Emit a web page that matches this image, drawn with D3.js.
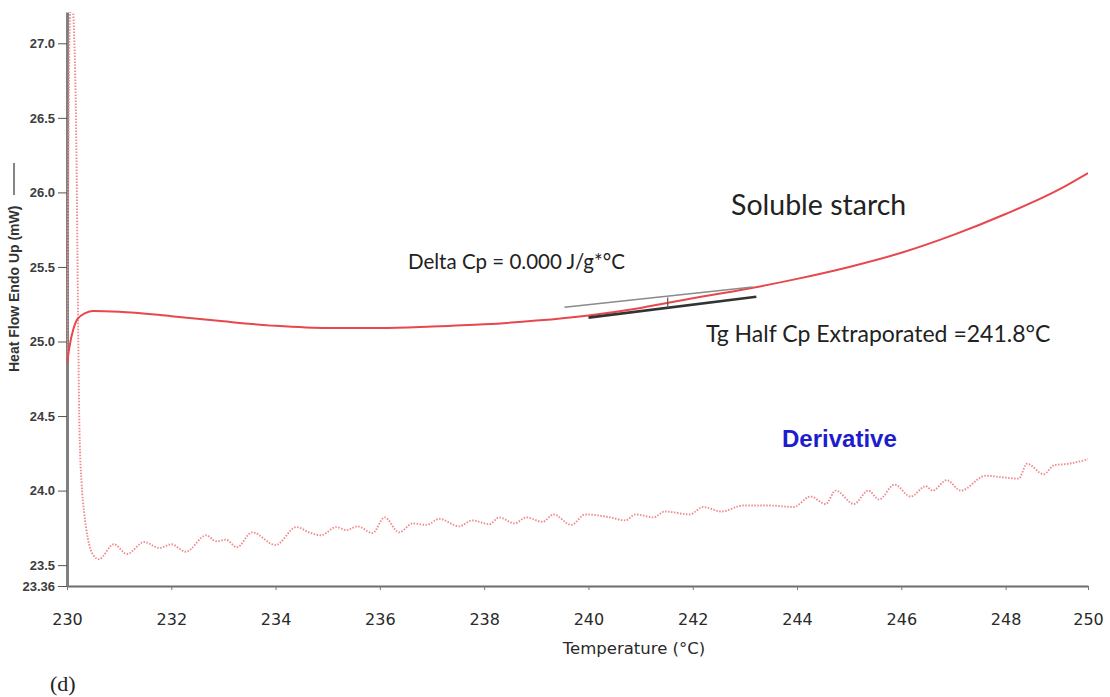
<!DOCTYPE html>
<html>
<head>
<meta charset="utf-8">
<script src="https://cdn.jsdelivr.net/npm/d3@7"></script>
<style>
  body { margin: 0; background: #fff; }
  svg { display: block; }
</style>
</head>
<body>
<script>
// Heat flow curve (solid)
var heatTemp = [230.0, 230.05, 230.12, 230.2, 230.35, 230.5, 231, 232, 233, 234, 235, 236, 237, 238, 239, 240, 241, 242, 243, 244, 245, 246, 247, 248, 249, 249.58];
var heatFlow = [24.85, 24.97, 25.08, 25.15, 25.19, 25.205, 25.2, 25.17, 25.135, 25.105, 25.09, 25.09, 25.1, 25.115, 25.14, 25.175, 25.225, 25.29, 25.35, 25.42, 25.5, 25.595, 25.715, 25.855, 26.015, 26.13];

// Derivative curve (dotted)
var derivTemp = [230.0, 230.02, 230.04, 230.06, 230.1, 230.15, 230.18, 230.2, 230.22, 230.24, 230.28, 230.33, 230.4, 230.5, 230.61,
  230.9, 231.15, 231.48, 231.77, 232.0, 232.28, 232.67, 232.86, 233.05, 233.26, 233.55, 234.0, 234.4, 234.64, 234.87,
  235.16, 235.36, 235.57, 235.86, 236.09, 236.37, 236.63, 236.89, 237.14, 237.52, 237.77, 238.1, 238.29, 238.58, 238.81,
  239.12, 239.33, 239.67, 239.94, 240.42, 240.71, 240.9, 241.25, 241.46, 241.94, 242.2, 242.55, 242.97, 243.45, 243.93,
  244.26, 244.55, 244.74, 245.09, 245.37, 245.57, 245.87, 246.18, 246.47, 246.6, 246.87, 247.14, 247.62, 247.91, 248.25,
  248.41, 248.73, 248.93, 249.21, 249.58];
var derivValue = [24.85, 25.8, 26.8, 27.2, 27.25, 26.9, 26.3, 25.6, 24.9, 24.4, 24.05, 23.85, 23.68, 23.57, 23.54,
  23.64, 23.575, 23.655, 23.615, 23.64, 23.59, 23.7, 23.66, 23.67, 23.62, 23.72, 23.635, 23.755, 23.72, 23.7,
  23.755, 23.735, 23.76, 23.715, 23.82, 23.72, 23.78, 23.77, 23.81, 23.76, 23.8, 23.775, 23.82, 23.78, 23.82,
  23.79, 23.84, 23.77, 23.84, 23.82, 23.8, 23.84, 23.82, 23.86, 23.84, 23.89, 23.86, 23.9, 23.9, 23.89,
  23.96, 23.91, 24.0, 23.91, 24.0, 23.94, 24.04, 23.96, 24.03, 24.0, 24.07, 24.0, 24.1, 24.09, 24.08,
  24.18, 24.11, 24.17, 24.18, 24.21];

// Onset tangent lines and half-Cp marker
var upperTangentTemp = [239.54, 243.15];
var upperTangentValue = [25.23, 25.365];
var lowerTangentTemp = [240.0, 243.22];
var lowerTangentValue = [25.16, 25.30];
var halfCpTemp = 241.52;
var halfCpValue = [25.225, 25.295];

var xTickValues = [230, 232, 234, 236, 238, 240, 242, 244, 246, 248, 249.58];
var xTickLabels = ["230", "232", "234", "236", "238", "240", "242", "244", "246", "248", "250"];
var yTickValues = [23.36, 23.5, 24.0, 24.5, 25.0, 25.5, 26.0, 26.5, 27.0];
var yTickLabels = ["23.36", "23.5", "24.0", "24.5", "25.0", "25.5", "26.0", "26.5", "27.0"];

var width = 1110, height = 697;
var margin = { top: 12, right: 22, bottom: 111, left: 67 };

var svg = d3.select('body')
  .append('svg')
  .attr('width', width)
  .attr('height', height);

var xScale = d3.scaleLinear()
  .domain([230, 249.58])
  .range([margin.left, width - margin.right]);

var yScale = d3.scaleLinear()
  .domain([23.36, 27.21])
  .range([height - margin.bottom, margin.top]);

svg.append('clipPath')
  .attr('id', 'plot-clip')
  .append('rect')
  .attr('x', margin.left)
  .attr('y', margin.top)
  .attr('width', width - margin.left - margin.right)
  .attr('height', height - margin.top - margin.bottom);

var line = d3.line()
  .x(function(d) { return xScale(d[0]); })
  .y(function(d) { return yScale(d[1]); });

//Draw axes
var xAxis = svg.append('g')
  .attr('transform', `translate(0,${height - margin.bottom})`)
  .call(d3.axisBottom(xScale)
    .tickValues(xTickValues)
    .tickFormat(function(d, i) { return xTickLabels[i]; })
    .tickSizeInner(4)
    .tickSizeOuter(0)
    .tickPadding(24));
xAxis.select('.domain').attr('stroke', '#6d6d6d').attr('stroke-width', 2);
xAxis.selectAll('.tick line').attr('stroke', '#777');
xAxis.selectAll('.tick text')
  .attr('fill', '#2a2a2a')
  .style('font-family', 'DejaVu Sans')
  .style('font-size', '16px');

var yAxis = svg.append('g')
  .attr('transform', `translate(${margin.left},0)`)
  .call(d3.axisLeft(yScale)
    .tickValues(yTickValues)
    .tickFormat(function(d, i) { return yTickLabels[i]; })
    .tickSizeInner(9)
    .tickSizeOuter(0)
    .tickPadding(3));
yAxis.select('.domain').attr('stroke', '#808080').attr('stroke-width', 3);
yAxis.selectAll('.tick line').attr('stroke', '#555');
yAxis.selectAll('.tick text')
  .attr('fill', '#3d3d3d')
  .style('font-family', 'Liberation Sans')
  .style('font-weight', 'bold')
  .style('font-size', '13px');

//Axis labels
svg.append('text')
  .attr('x', 634)
  .attr('y', 654)
  .attr('text-anchor', 'middle')
  .attr('fill', '#2a2a2a')
  .style('font-family', 'DejaVu Sans')
  .style('font-size', '16.5px')
  .text('Temperature (°C)');

var yLabel = svg.append('g')
  .attr('transform', 'translate(19,372) rotate(-90)');
yLabel.append('text')
  .attr('x', 0)
  .attr('y', 0)
  .attr('fill', '#333')
  .style('font-family', 'Liberation Sans')
  .style('font-weight', 'bold')
  .style('font-size', '14px')
  .text('Heat Flow Endo Up (mW)');
yLabel.append('line')
  .attr('x1', 177).attr('x2', 209)
  .attr('y1', -5).attr('y2', -5)
  .attr('stroke', '#444')
  .attr('stroke-width', 1.3);

//Draw curves
var plot = svg.append('g').attr('clip-path', 'url(#plot-clip)');

plot.append('path')
  .datum(d3.zip(derivTemp, derivValue))
  .attr('d', line.curve(d3.curveMonotoneX))
  .attr('fill', 'none')
  .attr('stroke', '#f08a8c')
  .attr('stroke-width', 1.9)
  .attr('stroke-dasharray', '1.5,1.5');

plot.append('path')
  .datum(d3.zip(heatTemp, heatFlow))
  .attr('d', line.curve(d3.curveMonotoneX))
  .attr('fill', 'none')
  .attr('stroke', '#e8474c')
  .attr('stroke-width', 2);

//Tangent lines
plot.append('path')
  .datum(d3.zip(upperTangentTemp, upperTangentValue))
  .attr('d', line.curve(d3.curveLinear))
  .attr('stroke', '#8a8a8a')
  .attr('stroke-width', 1.5);

plot.append('path')
  .datum(d3.zip(lowerTangentTemp, lowerTangentValue))
  .attr('d', line.curve(d3.curveLinear))
  .attr('stroke', '#333')
  .attr('stroke-width', 2.6);

plot.append('line')
  .attr('x1', xScale(halfCpTemp)).attr('x2', xScale(halfCpTemp))
  .attr('y1', yScale(halfCpValue[0])).attr('y2', yScale(halfCpValue[1]))
  .attr('stroke', '#555')
  .attr('stroke-width', 1.2);

//Annotations
svg.append('text')
  .attr('x', 731).attr('y', 215)
  .attr('fill', '#222')
  .style('font-family', 'Lato')
  .style('font-size', '28.5px')
  .text('Soluble starch');

svg.append('text')
  .attr('x', 408).attr('y', 269)
  .attr('fill', '#222')
  .style('font-family', 'Lato')
  .style('font-size', '20.5px')
  .text('Delta Cp = 0.000 J/g*°C');

svg.append('text')
  .attr('x', 706).attr('y', 342)
  .attr('fill', '#222')
  .style('font-family', 'Lato')
  .style('font-size', '23px')
  .text('Tg Half Cp Extraporated =241.8°C');

svg.append('text')
  .attr('x', 782).attr('y', 447)
  .attr('fill', '#1d1dcc')
  .style('font-family', 'Liberation Sans')
  .style('font-weight', 'bold')
  .style('font-size', '24px')
  .text('Derivative');

svg.append('text')
  .attr('x', 50).attr('y', 691)
  .attr('fill', '#222')
  .style('font-family', 'Liberation Serif')
  .style('font-size', '22px')
  .text('(d)');
</script>
</body>
</html>
